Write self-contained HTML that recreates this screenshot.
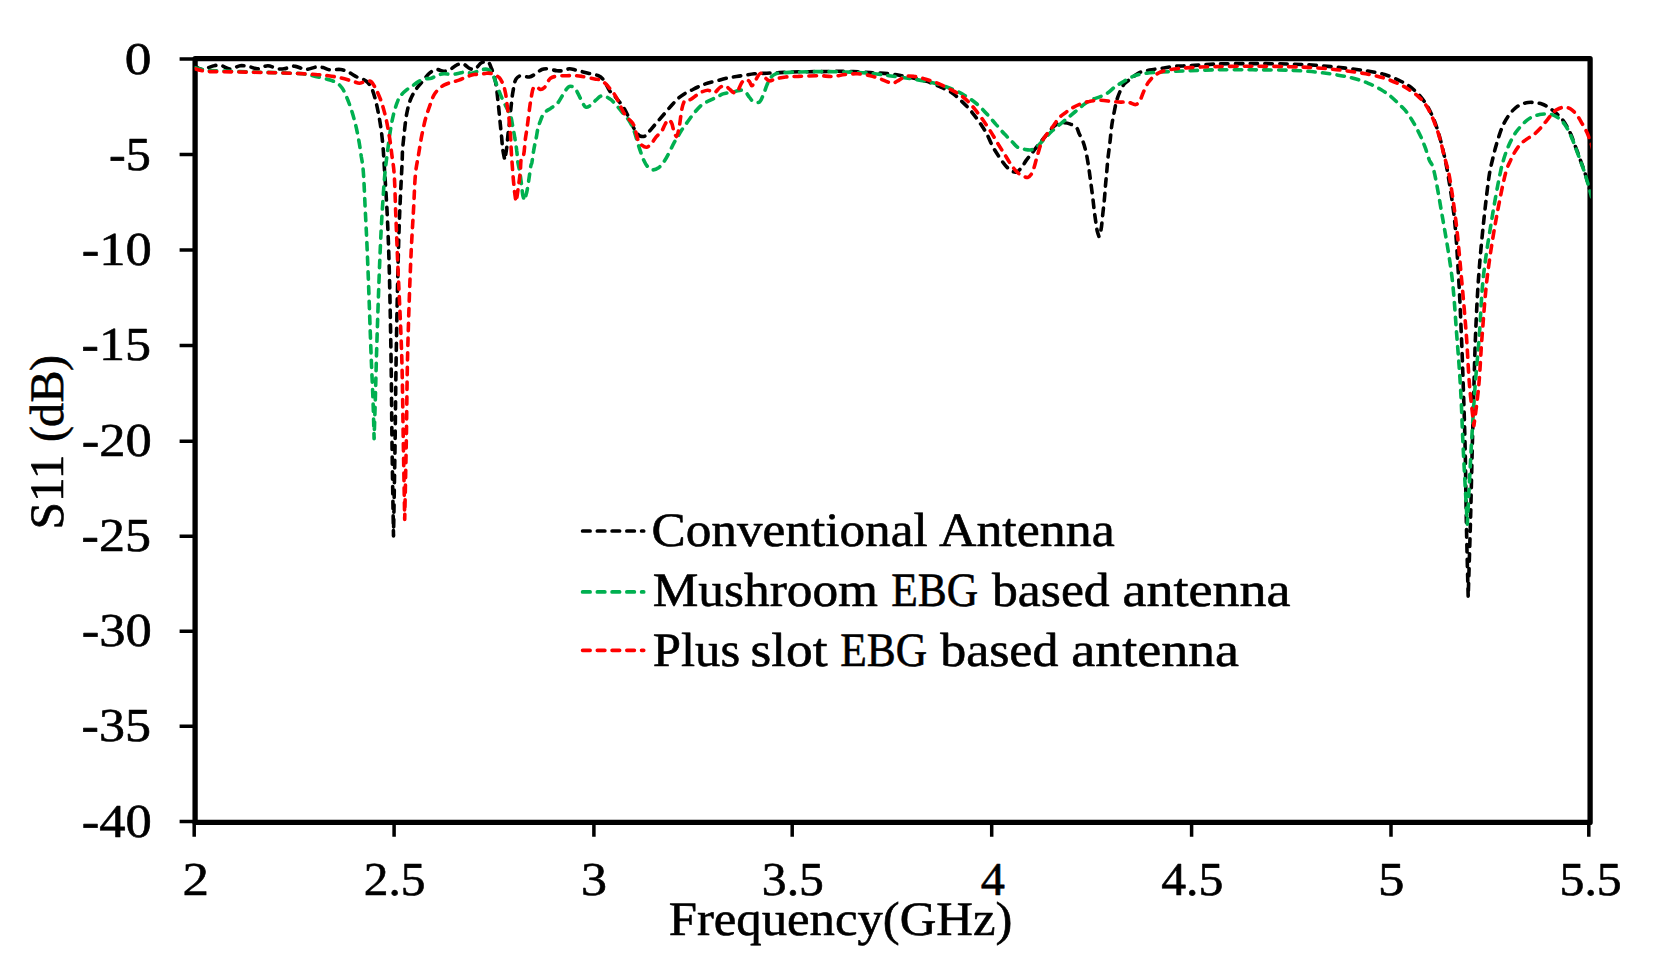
<!DOCTYPE html>
<html lang="en"><head><meta charset="utf-8"><title>S11 vs Frequency</title>
<style>
html,body{margin:0;padding:0;background:#fff;}
body{width:1676px;height:980px;overflow:hidden;}
svg{display:block;}
text{font-family:"Liberation Serif","DejaVu Serif",serif;fill:#000;text-rendering:geometricPrecision;}
.cv{fill:none;stroke-width:3.6;stroke-dasharray:7.4 7.3;stroke-linecap:round;stroke-linejoin:round;}
</style></head><body>
<svg width="1676" height="980" viewBox="0 0 1676 980">
<rect x="0" y="0" width="1676" height="980" fill="#fff"/>
<defs><clipPath id="pa"><rect x="194.6" y="58.2" width="1396.2" height="764.7"/></clipPath></defs>
<path d="M179.6 59.0H195.1M179.6 154.6H195.1M179.6 250.0H195.1M179.6 345.6H195.1M179.6 441.3H195.1M179.6 536.3H195.1M179.6 631.3H195.1M179.6 726.2H195.1M179.6 821.4H195.1M194.2 822.4V836.7M394.1 822.4V836.7M593.9 822.4V836.7M792.2 822.4V836.7M991.7 822.4V836.7M1191.6 822.4V836.7M1391.0 822.4V836.7M1588.8 822.4V836.7" stroke="#000" stroke-width="3.5" fill="none"/>
<rect x="195.1" y="58.7" width="1395.0" height="763.7" fill="none" stroke="#000" stroke-width="5.3" stroke-linejoin="round"/>
<g clip-path="url(#pa)">
<path class="cv" stroke="#000000" d="M195.0 66.3C195.0 66.3 199.8 69.4 202.6 69.5C205.9 69.6 210.4 66.2 213.8 65.7C216.6 65.2 218.8 65.2 221.4 65.7C224.2 66.2 227.1 69.0 230.2 69.1C233.4 69.1 236.9 66.1 240.2 65.7C243.2 65.4 246.1 66.1 249.0 66.6C251.9 67.1 254.8 68.9 257.8 68.8C261.0 68.7 264.5 65.7 267.8 65.7C271.2 65.7 274.9 68.4 277.9 68.8C280.2 69.2 281.8 69.1 284.1 68.8C287.1 68.4 290.7 66.0 294.2 66.1C297.8 66.1 301.7 69.3 305.5 69.5C309.2 69.6 313.5 67.1 316.8 66.9C319.2 66.8 321.0 67.1 323.0 67.6C325.2 68.1 326.9 69.4 329.3 69.8C332.5 70.3 337.3 69.0 340.6 69.5C343.4 69.9 345.6 70.8 348.2 72.0C351.0 73.3 354.0 75.5 356.9 77.0C359.8 78.4 363.4 79.0 365.7 80.8C367.8 82.3 369.4 84.1 370.7 86.4C372.4 89.1 373.4 92.6 374.5 96.4C375.9 101.2 377.2 107.1 378.3 112.8C379.5 118.8 380.6 125.3 381.4 131.6C382.2 137.8 382.9 145.2 383.3 150.4C383.6 154.1 383.6 155.6 383.9 160.0C384.5 170.2 386.1 193.3 387.0 210.0C387.8 226.7 388.4 240.7 389.0 260.0C389.8 286.6 390.5 324.0 391.0 355.0C391.5 384.6 391.6 412.3 392.0 441.8C392.4 472.6 393.5 536.0 393.5 536.0C393.5 536.0 394.6 472.6 395.1 441.8C395.5 412.3 395.7 384.6 396.2 355.0C396.7 324.0 397.5 286.6 398.2 260.0C398.7 240.7 399.1 226.7 399.8 210.0C400.5 193.3 401.8 170.2 402.2 160.0C402.4 155.6 402.3 154.1 402.5 150.4C402.9 145.2 403.7 137.9 404.4 131.6C405.1 125.3 405.7 118.5 406.9 112.8C407.9 107.8 409.0 103.1 410.7 99.0C412.2 95.2 414.2 91.9 416.3 88.9C418.2 86.1 420.4 84.0 422.6 81.4C425.0 78.6 427.5 74.6 430.1 72.6C432.2 71.0 434.2 69.7 436.4 69.5C438.8 69.2 441.5 71.4 443.9 71.3C446.1 71.3 448.2 70.4 450.2 69.5C452.4 68.4 454.3 66.0 456.5 65.1C458.5 64.2 460.7 63.4 462.8 63.8C465.3 64.3 467.9 68.1 470.3 68.8C472.0 69.4 473.7 69.5 475.3 68.8C477.5 67.9 479.3 63.6 481.6 62.6C483.5 61.6 486.2 61.1 487.9 61.9C489.7 62.9 490.5 66.1 491.6 68.8C493.1 72.3 494.4 76.7 495.4 81.4C496.6 87.0 497.2 93.9 497.9 100.2C498.6 106.5 499.2 112.8 499.8 119.0C500.4 125.3 501.1 132.2 501.7 137.9C502.1 142.5 502.3 146.5 502.9 150.4C503.4 153.8 504.8 159.8 504.8 159.8C504.8 159.8 506.2 151.9 506.7 147.9C507.2 143.8 507.5 139.3 507.9 135.4C508.3 131.8 508.8 129.2 509.2 125.3C509.8 120.0 510.4 112.4 511.1 106.5C511.7 101.2 512.1 96.2 513.0 91.4C513.8 87.0 514.3 81.5 516.1 78.9C517.3 77.2 518.7 76.2 520.5 75.7C522.8 75.2 526.7 77.4 529.3 77.0C531.6 76.6 533.5 75.1 535.6 73.8C537.7 72.6 539.8 70.3 541.8 69.5C543.5 68.8 544.9 68.8 546.9 68.8C549.6 68.9 553.9 70.4 556.9 70.7C559.2 70.9 561.1 71.0 563.2 70.7C565.3 70.4 567.3 68.9 569.4 68.8C571.5 68.7 573.3 69.5 575.7 70.1C579.2 70.9 584.3 72.2 588.3 73.2C591.8 74.1 595.6 74.5 598.3 75.7C600.4 76.7 601.7 77.7 603.3 79.5C605.7 82.2 607.7 88.4 610.0 91.4C611.6 93.6 613.4 94.6 615.0 96.4C616.7 98.4 618.4 100.5 620.0 102.7C621.8 105.1 623.5 107.5 625.1 110.2C626.8 113.3 628.4 116.9 630.1 120.3C631.8 123.6 633.2 127.6 635.1 130.3C636.6 132.6 638.2 135.1 640.1 136.0C641.7 136.7 643.6 136.7 645.1 136.0C647.0 135.1 648.3 132.4 650.2 130.3C652.4 127.7 655.2 124.5 657.7 121.5C660.2 118.6 662.7 115.7 665.2 112.8C667.7 109.8 670.3 106.6 672.8 104.0C674.9 101.7 676.9 99.5 679.0 97.7C681.1 96.0 683.2 94.6 685.3 93.3C687.4 92.1 689.5 91.2 691.6 90.2C693.7 89.1 695.7 88.0 697.9 87.0C700.2 85.9 702.6 84.9 705.4 83.9C708.7 82.7 712.8 81.8 716.7 80.8C720.8 79.7 725.0 78.5 729.2 77.6C733.4 76.8 737.6 76.4 741.8 75.7C746.0 75.1 750.2 74.3 754.3 73.8C758.5 73.4 762.7 73.4 766.9 73.2C771.1 73.0 775.3 72.8 779.4 72.6C783.6 72.4 787.0 72.1 792.0 72.0C799.5 71.7 810.9 71.7 820.0 71.6C828.6 71.5 836.7 71.2 845.1 71.3C853.5 71.5 862.4 72.1 870.2 72.6C876.9 73.0 883.4 73.2 889.0 73.8C893.7 74.3 897.4 75.0 901.6 75.7C905.8 76.5 910.0 77.3 914.1 78.2C918.3 79.2 922.6 80.0 926.7 81.4C930.9 82.7 935.1 84.5 939.2 86.4C943.5 88.3 948.1 90.2 951.8 92.7C955.1 94.9 957.8 97.6 960.6 100.2C963.2 102.7 965.8 105.2 968.1 107.7C970.4 110.2 972.3 112.6 974.4 115.3C976.5 118.0 978.6 121.0 980.7 124.1C982.8 127.3 985.0 130.5 986.9 134.1C989.0 137.9 990.5 142.5 992.6 146.3C994.5 149.9 996.7 153.2 998.8 156.4C1000.9 159.4 1002.9 162.6 1005.1 165.1C1007.1 167.4 1009.3 169.7 1011.4 170.8C1013.0 171.7 1014.8 172.4 1016.4 172.0C1018.2 171.6 1019.9 169.4 1021.4 167.7C1023.2 165.6 1024.7 162.5 1026.4 160.1C1028.1 157.9 1029.9 155.8 1031.5 153.8C1032.8 152.1 1033.9 150.6 1035.2 148.8C1036.8 146.8 1038.5 144.7 1040.2 142.6C1042.2 140.1 1044.2 137.7 1046.5 135.0C1049.2 132.0 1052.2 127.3 1055.3 125.3C1057.7 123.7 1060.3 123.0 1062.8 122.8C1065.3 122.6 1068.1 123.2 1070.4 124.1C1072.6 124.9 1075.2 126.1 1076.6 127.8C1078.0 129.4 1078.2 131.7 1079.2 133.8C1080.3 136.1 1081.8 138.5 1082.9 141.3C1084.2 144.6 1085.2 148.6 1086.1 152.6C1087.1 156.9 1087.8 161.8 1088.6 166.4C1089.3 171.0 1089.8 175.6 1090.5 180.2C1091.1 184.8 1091.7 189.2 1092.3 194.0C1093.0 199.2 1093.6 205.1 1094.2 210.3C1094.8 215.1 1095.5 220.2 1096.1 224.1C1096.5 227.0 1096.8 229.4 1097.4 231.7C1097.8 233.5 1099.0 236.7 1099.0 236.7C1099.0 236.7 1100.6 231.9 1101.1 229.2C1101.8 225.8 1101.9 222.0 1102.4 217.9C1102.9 212.6 1103.7 205.9 1104.3 200.3C1104.8 195.1 1105.1 190.1 1105.5 185.2C1105.9 180.5 1106.4 176.0 1106.8 171.4C1107.2 166.8 1107.5 162.3 1108.0 157.6C1108.6 152.7 1109.3 147.7 1109.9 142.6C1110.6 137.0 1111.0 130.7 1111.8 125.3C1112.5 120.4 1113.4 115.9 1114.3 111.5C1115.1 107.5 1115.7 103.8 1116.8 100.2C1117.8 96.7 1119.2 93.1 1120.6 90.2C1121.7 87.8 1122.7 85.7 1124.3 83.9C1126.0 82.0 1128.3 80.6 1130.6 78.9C1133.3 76.9 1136.2 74.1 1139.4 72.6C1142.5 71.2 1145.9 70.8 1149.4 70.1C1153.4 69.3 1157.8 68.8 1162.0 68.2C1166.2 67.6 1170.1 66.7 1174.6 66.3C1179.4 65.9 1184.2 66.0 1190.0 65.7C1197.4 65.3 1205.9 64.4 1215.1 64.1C1226.4 63.6 1240.2 63.6 1252.8 63.6C1265.3 63.6 1279.1 63.7 1290.4 64.1C1299.6 64.3 1307.2 64.7 1315.5 65.3C1323.9 65.9 1332.3 66.7 1340.6 67.6C1349.0 68.5 1358.0 69.5 1365.7 70.7C1372.5 71.8 1378.7 72.7 1384.6 74.5C1390.0 76.1 1395.6 78.6 1400.0 80.8C1403.4 82.4 1406.0 83.8 1408.8 85.8C1411.9 87.9 1414.9 90.5 1417.6 93.3C1420.4 96.2 1422.9 99.3 1425.1 102.7C1427.5 106.2 1429.6 110.1 1431.4 114.0C1433.3 118.0 1435.0 122.3 1436.4 126.6C1437.9 130.7 1439.1 134.9 1440.2 139.1C1441.4 143.3 1442.4 147.6 1443.3 151.7C1444.3 155.5 1445.1 159.4 1445.9 163.0C1446.5 166.1 1446.8 167.7 1447.5 171.8C1449.1 181.2 1452.6 202.1 1454.4 218.6C1456.4 237.0 1457.4 257.7 1458.6 277.3C1459.8 296.8 1460.6 317.0 1461.4 335.9C1462.2 353.6 1462.7 369.4 1463.3 387.5C1464.0 407.4 1464.7 428.6 1465.2 450.4C1465.7 474.0 1465.9 499.7 1466.4 524.2C1466.9 548.5 1468.2 596.9 1468.2 596.9C1468.2 596.9 1469.7 548.5 1470.4 524.2C1471.1 499.7 1471.6 474.0 1472.2 450.4C1472.8 428.6 1473.3 407.4 1473.9 387.5C1474.4 369.4 1474.8 353.6 1475.5 335.9C1476.3 317.0 1477.2 296.8 1478.6 277.3C1480.0 257.7 1482.0 237.0 1484.0 218.6C1485.8 202.1 1488.0 182.0 1489.8 171.8C1490.7 166.7 1491.4 164.3 1492.3 160.5C1493.3 156.4 1494.3 152.1 1495.4 147.9C1496.6 143.7 1497.9 139.3 1499.2 135.4C1500.4 131.8 1501.5 128.5 1503.0 125.3C1504.4 122.2 1506.1 119.3 1508.0 116.5C1509.9 113.8 1512.0 111.1 1514.3 109.0C1516.2 107.2 1518.3 105.7 1520.5 104.6C1522.8 103.5 1525.7 102.8 1528.1 102.5C1530.2 102.2 1532.2 102.3 1534.3 102.5C1536.8 102.7 1539.5 103.2 1541.9 104.0C1544.1 104.7 1546.0 105.8 1548.2 107.1C1550.6 108.6 1553.4 110.7 1555.7 112.8C1557.9 114.7 1560.1 116.7 1562.0 119.0C1563.9 121.3 1565.5 124.0 1567.0 126.6C1568.4 129.0 1569.6 131.4 1570.7 134.1C1572.1 137.2 1573.3 140.8 1574.5 144.1C1575.8 147.5 1577.1 150.9 1578.3 154.2C1579.4 157.2 1580.4 160.0 1581.4 163.0C1582.5 165.9 1583.5 168.5 1584.6 171.8C1585.8 175.5 1587.1 180.0 1588.3 184.3C1589.6 188.8 1592.1 198.1 1592.1 198.1"/>
<path class="cv" stroke="#00b050" d="M195.0 67.6C195.0 67.6 201.7 69.6 205.1 70.1C208.4 70.6 211.0 70.5 215.1 70.7C221.6 71.0 231.8 71.3 240.2 71.6C248.6 71.9 256.9 72.1 265.3 72.3C273.7 72.6 283.5 72.9 290.4 73.2C295.3 73.4 298.8 73.3 303.0 73.8C307.2 74.4 311.3 75.4 315.5 76.4C319.7 77.3 324.3 78.3 328.1 79.5C331.3 80.5 334.5 81.4 336.9 82.9C338.9 84.2 340.4 85.6 341.9 87.7C343.8 90.3 345.3 94.0 346.9 97.7C348.7 101.9 350.4 106.9 351.9 111.5C353.4 116.1 354.5 120.6 355.7 125.3C356.9 130.2 357.9 135.2 358.8 140.4C359.8 145.7 360.6 151.7 361.3 156.7C362.0 160.8 362.5 162.9 363.0 168.0C364.0 178.3 364.7 199.5 365.5 215.0C366.3 230.2 366.9 242.2 367.6 260.0C368.7 285.8 370.1 329.2 371.1 355.0C371.8 372.8 372.5 385.6 373.0 400.0C373.5 413.4 374.1 438.8 374.1 438.8C374.1 438.8 374.9 413.4 375.3 400.0C375.7 385.6 376.0 372.8 376.5 355.0C377.3 329.2 378.7 286.6 379.8 260.0C380.6 240.7 381.3 225.7 382.3 210.0C383.2 196.1 384.1 181.4 385.2 170.5C386.0 162.7 386.8 157.0 387.7 150.4C388.5 144.0 389.2 137.6 390.2 131.6C391.1 125.9 392.1 120.3 393.3 115.3C394.4 110.8 395.8 106.1 397.1 102.7C398.0 100.2 398.6 98.4 400.0 96.4C401.6 94.2 404.1 92.0 406.3 90.2C408.3 88.5 410.5 87.2 412.6 85.8C414.6 84.3 416.7 82.5 418.8 81.4C420.9 80.3 423.0 79.4 425.1 78.9C427.2 78.4 429.3 78.8 431.4 78.2C433.5 77.6 435.5 75.8 437.7 75.1C439.7 74.4 441.7 74.0 443.9 73.8C446.6 73.7 450.0 74.6 452.7 74.5C455.0 74.3 456.9 73.6 459.0 73.2C461.1 72.8 463.2 72.0 465.3 72.0C467.4 72.0 469.5 73.3 471.5 73.2C473.6 73.1 475.9 72.0 477.8 71.3C479.6 70.7 481.1 69.8 482.8 69.5C484.5 69.2 486.4 68.8 487.9 69.5C489.5 70.1 491.0 72.0 492.3 73.8C493.6 75.9 494.3 78.7 495.4 81.4C496.6 84.5 497.9 88.2 499.2 91.4C500.4 94.5 501.5 97.2 502.9 100.2C504.4 103.5 506.5 107.1 507.9 110.2C509.2 112.9 510.3 115.0 511.1 117.8C512.0 120.8 512.3 124.5 513.0 127.8C513.6 131.2 514.3 134.3 514.8 137.9C515.5 141.8 516.2 146.2 516.7 150.4C517.3 154.6 517.4 159.2 518.0 163.0C518.5 166.1 519.2 168.2 519.7 171.4C520.4 175.5 521.0 181.0 521.6 185.2C522.1 188.8 522.3 192.5 522.8 195.3C523.3 197.3 524.3 200.3 524.3 200.3C524.3 200.3 525.9 195.7 526.6 192.8C527.6 188.6 528.4 182.5 529.1 177.7C529.8 173.3 530.4 167.6 531.0 165.1C531.3 164.1 531.5 164.0 531.8 163.0C532.4 160.5 532.9 154.6 533.7 150.4C534.4 146.2 535.4 141.8 536.2 137.9C536.9 134.3 537.3 130.9 538.1 127.8C538.8 125.1 539.6 122.8 540.6 120.3C541.6 117.7 542.6 114.8 544.3 112.8C546.0 110.8 548.5 109.8 550.6 108.4C552.7 106.9 555.1 105.8 556.9 104.0C558.9 101.9 560.4 98.9 561.9 96.4C563.3 94.3 564.3 91.9 565.7 90.2C566.9 88.7 568.0 86.8 569.4 86.4C570.9 86.0 573.1 86.6 574.5 87.7C576.1 88.9 577.0 91.7 578.2 93.9C579.5 96.3 580.7 99.2 582.0 101.5C583.2 103.5 584.2 106.6 585.8 107.1C587.2 107.6 589.2 106.2 590.8 105.2C592.6 104.1 594.0 101.8 595.8 100.2C597.7 98.6 599.8 96.1 602.1 95.8C604.5 95.5 607.7 97.4 610.0 99.0C612.4 100.5 614.2 103.0 616.3 105.2C618.4 107.6 620.5 110.2 622.6 112.8C624.6 115.3 627.0 117.5 628.8 120.3C630.8 123.3 632.5 126.9 633.8 130.3C635.2 133.6 635.9 137.0 637.0 140.4C638.0 143.7 639.0 147.1 640.1 150.4C641.3 153.8 642.5 157.6 643.9 160.5C645.0 162.9 646.1 165.1 647.7 166.7C649.1 168.2 650.9 169.7 652.7 169.9C654.6 170.0 657.1 168.7 659.0 167.4C660.9 166.0 662.4 163.9 664.0 161.7C665.8 159.2 667.4 156.0 669.0 152.9C670.7 149.7 672.4 145.8 674.0 142.9C675.3 140.5 676.5 138.7 677.8 136.6C679.0 134.5 680.1 132.6 681.5 130.3C683.3 127.6 685.6 124.6 687.8 121.5C690.2 118.3 692.7 114.5 695.4 111.5C697.8 108.7 700.2 105.9 702.9 104.0C705.3 102.3 707.9 101.5 710.4 100.2C712.9 99.0 715.7 97.6 717.9 96.4C719.8 95.5 721.2 94.6 723.0 93.9C724.9 93.3 727.1 93.1 729.2 92.7C731.3 92.3 733.4 91.8 735.5 91.4C737.6 91.0 740.0 89.9 741.8 90.2C743.2 90.4 744.4 91.1 745.6 92.0C747.0 93.2 748.0 95.5 749.3 97.1C750.6 98.6 751.5 100.6 753.1 101.5C754.8 102.3 757.7 103.0 759.4 102.1C761.2 101.1 762.0 97.7 763.1 95.2C764.5 92.2 765.6 88.2 766.9 85.1C768.1 82.4 769.0 79.6 770.7 77.6C772.1 75.9 773.6 74.7 775.7 73.8C778.3 72.8 782.2 72.9 785.7 72.6C789.7 72.2 793.5 72.1 798.3 72.0C804.5 71.8 812.5 71.6 820.0 71.6C828.1 71.6 836.7 71.7 845.1 72.0C853.5 72.2 862.5 72.5 870.2 73.2C876.9 73.8 882.8 74.9 889.0 75.7C895.3 76.6 901.6 77.3 907.9 78.2C914.1 79.2 921.1 80.2 926.7 81.4C931.3 82.3 935.1 83.3 939.2 84.5C943.5 85.8 947.7 87.2 951.8 88.9C956.0 90.7 960.2 92.7 964.3 95.2C968.6 97.7 973.1 100.8 976.9 104.0C980.6 107.1 983.8 110.6 986.9 114.0C990.0 117.3 992.8 120.7 995.7 124.1C998.7 127.4 1001.6 131.0 1004.5 134.1C1007.1 136.8 1009.7 139.3 1012.0 141.6C1014.1 143.6 1015.6 146.0 1017.7 147.3C1019.6 148.4 1021.7 148.7 1023.9 149.2C1026.3 149.6 1029.1 150.3 1031.5 149.8C1033.7 149.3 1035.7 147.7 1037.7 146.0C1040.3 143.9 1042.7 140.5 1045.3 137.9C1047.8 135.3 1050.2 132.7 1052.8 130.3C1055.3 128.1 1057.8 126.1 1060.3 124.1C1062.8 122.0 1065.4 119.9 1067.9 117.8C1070.4 115.7 1072.9 113.6 1075.4 111.5C1077.9 109.4 1080.4 107.1 1082.9 105.2C1085.4 103.4 1087.8 101.6 1090.5 100.2C1093.2 98.8 1096.3 98.3 1099.2 97.1C1102.2 95.8 1105.3 94.5 1108.0 92.7C1110.7 90.9 1113.1 88.1 1115.6 86.4C1117.7 84.9 1119.6 83.9 1121.8 82.6C1124.2 81.2 1126.8 79.5 1129.4 78.2C1131.8 77.0 1134.2 75.9 1136.9 75.1C1140.0 74.2 1143.2 73.7 1146.9 73.2C1151.4 72.6 1157.2 72.3 1162.0 72.0C1166.4 71.7 1170.2 71.5 1174.6 71.3C1179.4 71.1 1184.2 70.9 1190.0 70.7C1197.3 70.4 1205.9 70.0 1215.1 69.8C1226.4 69.6 1240.2 69.7 1252.8 69.8C1265.3 69.9 1279.1 69.9 1290.4 70.3C1299.6 70.7 1307.8 71.2 1315.5 72.0C1322.3 72.6 1328.1 73.4 1334.3 74.5C1340.6 75.5 1347.3 76.7 1353.2 78.2C1358.5 79.7 1363.5 81.3 1368.2 83.3C1372.7 85.1 1376.9 87.3 1380.8 89.5C1384.4 91.7 1387.9 94.1 1390.8 96.4C1393.4 98.5 1395.3 100.5 1397.5 102.7C1400.0 105.1 1402.8 107.5 1405.1 110.2C1407.4 113.0 1409.4 116.1 1411.3 119.0C1413.2 121.9 1414.7 124.8 1416.4 127.8C1418.1 131.0 1419.8 134.4 1421.4 137.9C1423.0 141.5 1424.4 145.4 1425.8 149.2C1427.1 152.9 1428.2 157.4 1429.5 160.5C1430.5 162.7 1431.5 163.1 1432.5 166.0C1435.5 174.5 1439.5 200.6 1442.7 218.6C1446.0 237.6 1449.6 257.7 1452.0 277.3C1454.3 296.8 1455.3 317.0 1456.8 335.9C1458.2 353.6 1459.5 369.4 1460.5 387.5C1461.7 407.4 1462.2 428.6 1463.3 450.4C1464.5 474.0 1467.3 524.2 1467.3 524.2C1467.3 524.2 1469.8 474.0 1471.1 450.4C1472.3 428.6 1473.6 407.4 1475.0 387.5C1476.3 369.4 1478.0 353.7 1479.3 335.9C1480.7 317.0 1481.2 296.8 1483.3 277.3C1485.4 257.7 1488.9 237.0 1491.9 218.6C1494.6 202.1 1498.3 181.6 1500.5 171.8C1501.4 167.2 1502.0 165.1 1503.0 161.7C1504.0 158.0 1505.4 153.9 1506.7 150.4C1507.9 147.3 1509.1 144.5 1510.5 141.6C1512.0 138.7 1513.7 135.5 1515.5 132.8C1517.1 130.5 1518.7 128.6 1520.5 126.6C1522.5 124.4 1524.6 122.0 1526.8 120.3C1528.8 118.7 1530.9 117.5 1533.1 116.5C1535.1 115.6 1537.3 115.1 1539.4 114.6C1541.4 114.2 1543.6 114.0 1545.6 114.0C1547.7 114.0 1549.9 114.1 1551.9 114.6C1554.1 115.3 1556.2 116.4 1558.2 117.8C1560.4 119.4 1562.6 121.6 1564.5 124.1C1566.4 126.6 1568.0 129.9 1569.5 132.8C1570.9 135.7 1572.0 138.6 1573.3 141.6C1574.5 144.8 1575.8 148.3 1577.0 151.7C1578.3 155.0 1579.6 158.5 1580.8 161.7C1581.9 164.7 1582.9 167.3 1583.9 170.5C1585.2 174.3 1586.5 178.8 1587.7 183.0C1589.0 187.5 1591.5 196.9 1591.5 196.9"/>
<path class="cv" stroke="#ff0000" d="M195.0 68.8C195.0 68.8 201.7 70.9 205.1 71.3C208.4 71.8 211.0 71.5 215.1 71.6C221.6 71.7 231.8 71.8 240.2 72.0C248.6 72.1 256.9 72.4 265.3 72.6C273.7 72.8 282.0 72.9 290.4 73.2C298.8 73.5 308.6 74.0 315.5 74.5C320.4 74.8 323.9 75.2 328.1 75.7C332.3 76.3 336.5 76.9 340.6 77.9C344.8 78.8 349.7 80.4 353.2 81.4C355.6 82.1 357.4 83.3 359.4 83.3C361.5 83.3 363.7 81.7 365.7 81.4C367.5 81.1 369.3 80.6 370.7 81.4C372.7 82.5 374.2 86.1 375.8 88.9C377.6 92.2 379.2 96.0 380.8 100.2C382.7 105.4 384.4 111.7 385.8 117.8C387.3 124.2 388.5 131.3 389.6 137.9C390.6 144.2 391.3 150.8 392.1 156.7C392.8 162.0 393.5 165.5 394.0 171.8C394.9 182.5 395.2 200.5 395.8 215.0C396.4 229.8 396.9 242.2 397.6 260.0C398.7 285.8 400.7 324.0 401.7 355.0C402.6 384.6 402.8 413.7 403.3 441.8C403.8 468.4 404.7 519.4 404.7 519.4C404.7 519.4 405.8 468.4 406.3 441.8C406.8 413.7 406.9 384.6 407.6 355.0C408.4 324.0 409.6 286.6 410.8 260.0C411.6 240.7 412.6 225.6 413.5 210.0C414.3 196.4 414.6 181.6 415.7 171.8C416.4 165.6 417.3 162.0 418.2 156.7C419.2 150.8 420.2 144.0 421.3 137.9C422.5 131.9 423.7 125.8 425.1 120.3C426.4 115.4 428.0 110.8 429.5 106.5C430.9 102.5 432.3 98.1 433.9 95.2C435.1 93.1 436.1 91.7 437.7 90.2C439.4 88.4 441.7 86.4 443.9 85.1C445.9 84.0 447.9 83.4 450.2 82.6C452.9 81.7 456.1 81.2 459.0 80.1C462.0 79.1 465.1 77.3 467.8 76.4C470.0 75.5 471.9 74.8 474.1 74.5C476.1 74.2 478.2 74.7 480.3 74.5C482.4 74.3 484.5 73.3 486.6 73.2C488.7 73.1 490.9 73.2 492.9 73.8C495.1 74.6 497.5 75.9 499.2 77.6C500.8 79.3 501.9 81.5 502.9 83.9C504.1 86.5 504.7 89.4 505.4 92.7C506.3 96.7 506.7 101.9 507.3 106.5C507.9 111.1 508.7 115.6 509.2 120.3C509.7 125.2 510.1 130.0 510.5 135.4C510.9 141.5 511.1 148.1 511.5 155.1C512.1 163.0 512.8 173.3 513.4 180.2C513.9 185.1 514.2 189.0 514.7 192.8C515.1 196.0 515.9 201.5 515.9 201.5C515.9 201.5 516.5 199.4 516.8 197.8C517.3 195.0 517.9 190.5 518.4 186.5C519.1 181.8 519.8 176.3 520.3 171.4C520.8 166.7 520.5 159.5 521.6 157.6C522.0 157.0 522.6 157.4 523.0 156.7C524.4 154.5 524.7 143.5 525.5 137.9C526.2 133.3 526.8 129.7 527.4 125.3C528.1 120.5 528.6 115.0 529.3 110.2C529.9 105.9 530.4 101.6 531.2 97.7C531.9 94.1 532.3 89.3 533.7 87.7C534.4 86.8 535.3 86.3 536.2 86.4C537.5 86.5 539.1 89.4 540.6 89.5C541.9 89.6 543.3 88.6 544.3 87.7C545.5 86.6 545.9 84.7 546.9 83.3C547.9 81.6 549.1 79.4 550.6 78.2C552.0 77.2 553.6 76.8 555.6 76.4C558.6 75.7 563.4 75.8 566.9 75.7C570.0 75.6 573.0 75.6 575.7 75.7C578.0 75.8 579.6 76.0 582.0 76.4C585.5 76.9 591.1 78.2 594.6 78.9C597.0 79.4 598.9 79.3 600.8 80.1C602.7 81.0 604.3 82.4 605.8 83.9C607.4 85.4 608.6 87.1 610.0 88.9C611.6 90.9 613.5 92.8 615.0 95.2C616.9 98.1 618.5 102.1 620.0 105.2C621.4 107.9 622.3 110.4 623.8 112.8C625.3 115.0 627.2 117.1 628.8 119.0C630.3 120.8 632.1 122.1 633.2 124.1C634.5 126.2 634.9 129.0 635.7 131.6C636.6 134.4 637.1 138.0 638.2 140.4C639.1 142.2 640.0 143.6 641.4 144.8C642.7 145.9 644.8 147.4 646.4 147.3C648.1 147.1 649.9 145.1 651.4 143.5C653.2 141.7 654.7 138.7 656.4 136.6C658.0 134.7 660.0 133.6 661.5 131.6C663.0 129.4 663.9 126.2 665.2 124.1C666.3 122.3 667.3 119.8 668.4 119.7C669.4 119.6 670.6 121.3 671.5 122.8C672.7 124.9 673.0 129.1 674.0 131.6C674.8 133.5 675.8 136.7 676.5 136.6C677.5 136.5 678.3 131.0 679.0 127.8C679.9 124.0 680.3 119.2 680.9 115.3C681.5 111.7 681.9 107.9 682.8 105.2C683.5 103.2 684.0 101.1 685.3 100.2C686.6 99.3 688.6 100.2 690.3 99.6C692.4 98.8 694.6 96.5 696.6 95.2C698.4 94.0 699.8 92.9 701.6 92.0C703.6 91.2 705.8 90.1 707.9 90.2C710.0 90.3 712.2 93.0 714.2 92.7C716.4 92.3 718.3 88.2 720.5 87.0C722.1 86.1 724.0 85.4 725.5 85.8C726.9 86.1 727.9 87.8 729.2 88.9C730.8 90.1 732.7 92.6 734.3 92.7C735.6 92.7 736.9 91.4 738.0 90.2C739.5 88.4 740.3 84.5 741.8 82.6C742.9 81.2 744.3 79.6 745.6 79.5C746.8 79.4 748.3 80.4 749.3 81.4C750.4 82.4 750.9 85.7 751.8 85.8C752.9 85.8 754.2 82.1 755.6 80.1C757.1 77.9 759.0 73.3 760.6 73.2C761.9 73.1 763.0 75.8 764.4 77.0C765.9 78.3 767.5 80.4 769.4 80.8C771.3 81.1 773.3 79.4 775.7 78.9C778.6 78.2 782.2 77.4 785.7 77.0C789.7 76.5 793.5 76.5 798.3 76.4C804.5 76.1 813.7 75.7 820.0 75.7C824.7 75.8 828.4 76.6 832.6 76.4C836.7 76.2 840.9 74.9 845.1 74.5C849.3 74.1 853.5 73.6 857.7 73.8C861.8 74.1 866.3 74.8 870.2 75.7C873.8 76.6 877.2 77.7 880.2 78.9C883.0 79.9 885.5 81.3 887.8 82.0C889.6 82.6 891.1 83.5 892.8 83.3C894.8 83.0 897.0 81.3 899.1 80.1C901.2 79.0 903.0 77.0 905.4 76.4C907.9 75.6 911.0 76.0 914.1 76.4C918.0 76.8 922.5 78.3 926.7 79.5C930.9 80.8 935.1 82.1 939.2 83.9C943.5 85.7 948.0 88.1 951.8 90.2C955.0 91.9 957.8 93.3 960.6 95.2C963.3 97.1 965.7 99.1 968.1 101.5C970.7 104.0 973.2 107.2 975.6 110.2C978.2 113.4 980.7 116.8 983.2 120.3C985.7 123.9 988.2 127.6 990.7 131.6C993.4 135.9 996.3 140.9 998.8 145.1C1001.0 148.7 1003.0 151.8 1005.1 155.1C1007.2 158.5 1009.2 162.1 1011.4 165.1C1013.4 167.9 1015.4 170.7 1017.7 172.7C1019.6 174.4 1022.1 175.6 1023.9 176.4C1025.3 177.0 1026.5 177.7 1027.7 177.4C1029.1 177.1 1030.5 175.4 1031.5 173.9C1032.6 172.2 1033.2 169.9 1034.0 167.7C1034.9 165.0 1035.6 161.8 1036.5 158.9C1037.3 155.9 1038.1 152.9 1039.0 150.1C1039.8 147.5 1040.4 144.9 1041.5 142.6C1042.5 140.3 1043.7 138.5 1045.3 136.3C1047.3 133.3 1050.4 129.7 1052.8 126.6C1055.0 123.6 1056.8 120.2 1059.1 117.8C1061.0 115.7 1063.2 114.3 1065.4 112.8C1067.4 111.2 1069.3 109.7 1071.6 108.4C1074.3 106.8 1077.4 105.1 1080.4 104.0C1083.3 102.9 1086.1 102.1 1089.2 101.5C1092.4 100.8 1095.7 100.3 1099.2 100.2C1103.2 100.2 1108.0 101.1 1111.8 101.5C1115.0 101.7 1117.8 102.0 1120.6 102.1C1123.2 102.2 1125.6 101.7 1128.1 102.1C1130.7 102.5 1133.6 105.0 1135.6 104.6C1137.2 104.3 1138.3 102.9 1139.4 101.5C1141.0 99.4 1141.8 95.7 1143.2 92.7C1144.7 89.4 1146.2 85.6 1148.2 82.6C1150.0 80.0 1152.2 77.6 1154.5 75.7C1156.4 74.1 1158.3 73.0 1160.7 72.0C1163.6 70.8 1167.4 70.1 1170.8 69.5C1174.1 68.8 1177.6 68.5 1180.8 68.2C1183.9 67.9 1186.2 67.8 1190.0 67.6C1196.3 67.2 1205.9 66.8 1215.1 66.6C1226.4 66.3 1240.2 66.3 1252.8 66.3C1265.3 66.3 1279.1 66.4 1290.4 66.7C1299.6 66.9 1307.2 67.3 1315.5 67.8C1323.9 68.4 1332.3 69.1 1340.6 70.1C1349.0 71.1 1358.0 72.4 1365.7 73.8C1372.5 75.1 1378.7 76.4 1384.6 78.2C1390.0 80.0 1395.6 82.4 1400.0 84.5C1403.4 86.2 1405.9 87.7 1408.8 89.5C1411.8 91.4 1414.9 93.4 1417.6 95.8C1420.4 98.2 1422.9 100.9 1425.1 104.0C1427.6 107.3 1429.6 111.3 1431.4 115.3C1433.3 119.3 1435.0 123.7 1436.4 127.8C1437.9 131.8 1439.1 135.7 1440.2 139.7C1441.4 143.9 1442.3 148.2 1443.3 152.3C1444.4 156.3 1445.5 160.7 1446.5 164.2C1447.2 167.0 1447.7 168.2 1448.5 171.8C1450.4 180.7 1453.5 202.1 1455.6 218.6C1457.9 237.0 1459.6 257.7 1461.4 277.3C1463.2 296.8 1465.0 317.0 1466.4 335.9C1467.7 353.6 1468.3 371.6 1469.7 387.5C1470.9 401.2 1473.9 425.7 1473.9 425.7C1473.9 425.7 1477.3 401.2 1478.6 387.5C1480.1 371.6 1480.7 353.6 1482.1 335.9C1483.6 317.0 1484.9 296.8 1487.2 277.3C1489.6 257.7 1492.8 237.3 1496.2 218.6C1499.4 201.4 1503.7 178.9 1506.7 169.2C1508.1 165.0 1509.2 163.3 1510.5 160.5C1511.7 157.8 1512.7 155.5 1514.3 152.9C1516.0 150.0 1518.3 146.5 1520.5 144.1C1522.5 142.1 1524.6 140.7 1526.8 139.1C1529.2 137.4 1531.9 136.1 1534.3 134.1C1537.0 131.9 1539.7 129.0 1541.9 126.6C1543.8 124.4 1545.2 122.4 1546.9 120.3C1548.6 118.2 1550.2 115.9 1551.9 114.0C1553.5 112.3 1555.0 110.8 1556.9 109.6C1559.1 108.4 1562.1 107.1 1564.5 107.1C1566.7 107.1 1568.8 107.8 1570.7 109.0C1573.0 110.4 1575.2 112.9 1577.0 115.3C1578.9 117.7 1580.4 120.6 1582.0 123.4C1583.8 126.4 1585.6 129.7 1587.1 132.8C1588.4 135.8 1589.5 138.7 1590.5 141.6C1591.4 144.5 1592.1 147.4 1593.0 150.4C1593.8 153.6 1595.5 160.5 1595.5 160.5"/>
</g>
<g stroke="#000" stroke-width="0.6" stroke-linejoin="round">
<text y="74" font-size="45.3"><tspan x="124.71" textLength="26.71" lengthAdjust="spacingAndGlyphs">0</tspan></text>
<text y="170" font-size="47.2"><tspan x="109.06" textLength="41.82" lengthAdjust="spacingAndGlyphs">-5</tspan></text>
<text y="265" font-size="47.2"><tspan x="81.66" textLength="70.09" lengthAdjust="spacingAndGlyphs">-10</tspan></text>
<text y="360" font-size="47.2"><tspan x="81.61" textLength="69.38" lengthAdjust="spacingAndGlyphs">-15</tspan></text>
<text y="456" font-size="47.2"><tspan x="81.66" textLength="70.09" lengthAdjust="spacingAndGlyphs">-20</tspan></text>
<text y="551" font-size="47.2"><tspan x="81.61" textLength="69.38" lengthAdjust="spacingAndGlyphs">-25</tspan></text>
<text y="646" font-size="47.2"><tspan x="81.66" textLength="70.09" lengthAdjust="spacingAndGlyphs">-30</tspan></text>
<text y="741" font-size="47.2"><tspan x="81.61" textLength="69.38" lengthAdjust="spacingAndGlyphs">-35</tspan></text>
<text y="837" font-size="47.2"><tspan x="81.66" textLength="70.09" lengthAdjust="spacingAndGlyphs">-40</tspan></text>
<text y="895" font-size="47.2"><tspan x="182.53" textLength="26.50" lengthAdjust="spacingAndGlyphs">2</tspan></text>
<text y="895" font-size="47.2"><tspan x="363.73" textLength="61.80" lengthAdjust="spacingAndGlyphs">2.5</tspan></text>
<text y="895" font-size="47.2"><tspan x="580.91" textLength="26.02" lengthAdjust="spacingAndGlyphs">3</tspan></text>
<text y="895" font-size="47.2"><tspan x="761.89" textLength="62.07" lengthAdjust="spacingAndGlyphs">3.5</tspan></text>
<text y="895" font-size="47.2"><tspan x="980.85" textLength="24.16" lengthAdjust="spacingAndGlyphs">4</tspan></text>
<text y="895" font-size="47.2"><tspan x="1161.18" textLength="62.18" lengthAdjust="spacingAndGlyphs">4.5</tspan></text>
<text y="895" font-size="47.2"><tspan x="1378.03" textLength="26.43" lengthAdjust="spacingAndGlyphs">5</tspan></text>
<text y="895" font-size="47.2"><tspan x="1559.49" textLength="62.26" lengthAdjust="spacingAndGlyphs">5.5</tspan></text>
<text y="935" font-size="48.0"><tspan x="668.68" textLength="343.70" lengthAdjust="spacingAndGlyphs">Frequency(GHz)</tspan></text>
<g transform="translate(63 526.1) rotate(-90)"><text y="0" font-size="48.0"><tspan x="-3.32" textLength="74.77" lengthAdjust="spacingAndGlyphs">S11</tspan> <tspan x="84.1 99.0 123.6 155.2">(dB)</tspan></text></g>
<text y="546" font-size="48.0"><tspan x="651.55" textLength="276.09" lengthAdjust="spacingAndGlyphs">Conventional</tspan> <tspan x="938.98" textLength="175.72" lengthAdjust="spacingAndGlyphs">Antenna</tspan></text>
<text y="606" font-size="48.0"><tspan x="652.73" textLength="225.27" lengthAdjust="spacingAndGlyphs">Mushroom</tspan> <tspan x="891.18" textLength="86.87" lengthAdjust="spacingAndGlyphs">EBG</tspan> <tspan x="991.96" textLength="117.76" lengthAdjust="spacingAndGlyphs">based</tspan> <tspan x="1122.45" textLength="168.14" lengthAdjust="spacingAndGlyphs">antenna</tspan></text>
<text y="666" font-size="48.0"><tspan x="652.76" textLength="87.44" lengthAdjust="spacingAndGlyphs">Plus</tspan> <tspan x="750.43" textLength="77.06" lengthAdjust="spacingAndGlyphs">slot</tspan> <tspan x="840.18" textLength="86.87" lengthAdjust="spacingAndGlyphs">EBG</tspan> <tspan x="940.21" textLength="118.13" lengthAdjust="spacingAndGlyphs">based</tspan> <tspan x="1071.22" textLength="167.86" lengthAdjust="spacingAndGlyphs">antenna</tspan></text>
</g>
<path d="M582.6 531.0H643.7" stroke="#000000" stroke-width="3.7" stroke-dasharray="7.5 7.25" stroke-linecap="round" fill="none"/>
<path d="M582.6 591.9H643.7" stroke="#00b050" stroke-width="3.7" stroke-dasharray="7.5 7.25" stroke-linecap="round" fill="none"/>
<path d="M582.6 650.3H643.7" stroke="#ff0000" stroke-width="3.7" stroke-dasharray="7.5 7.25" stroke-linecap="round" fill="none"/>
</svg>
</body></html>
